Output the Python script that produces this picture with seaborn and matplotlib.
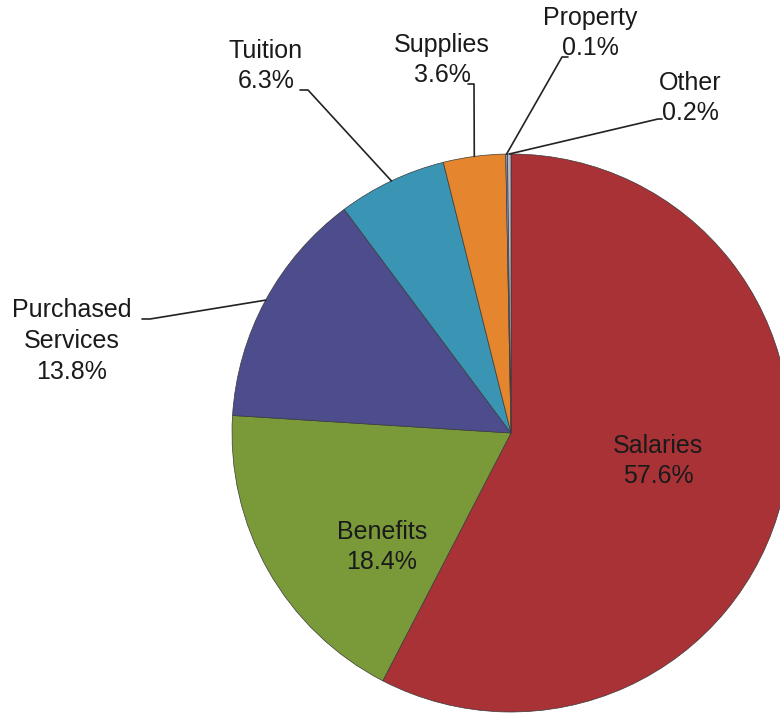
import numpy as np
import seaborn as sns
import matplotlib.pyplot as plt

# ---- data ----
categories = ["Salaries", "Benefits", "Purchased\nServices", "Tuition",
              "Supplies", "Property", "Other"]
shares = [57.6, 18.4, 13.8, 6.3, 3.6, 0.1, 0.2]
colors = ["#A83236", "#7A9A3A", "#4D4C8C", "#3A94B4",
          "#E5862E", "#8FA8D8", "#B8B8C8"]

# ---- layout (image pixel coords, y down) ----
W, H = 780, 717
center = (511, 433)
radius = 279
# label block centre, elbow point, end of short horizontal hook (None = inside)
label_pos = {
    "Salaries": ((658, 461), None, None),
    "Benefits": ((382, 547), None, None),
    "Purchased\nServices": ((72, 341), (150, 319), (142, 319)),
    "Tuition": ((266, 66), (308, 90), (300, 90)),
    "Supplies": ((442, 60), (474, 84), (468, 84)),
    "Property": ((590, 33), (562, 57), (568, 57)),
    "Other": ((690, 98), (658, 119), (662, 119)),
}


def img(x, y):
    return x, H - y


sns.set_theme(style="white")
plt.rcParams["font.family"] = ["Liberation Sans", "DejaVu Sans"]

fig = plt.figure(figsize=(W / 100, H / 100), dpi=100)
ax = fig.add_axes([0, 0, 1, 1])

wedges, _ = ax.pie(shares, colors=colors, startangle=90, counterclock=False,
                   center=img(*center), radius=radius,
                   wedgeprops=dict(edgecolor="#3a3a3a", linewidth=0.5))

cx, cy = img(*center)
for w, cat, val in zip(wedges, categories, shares):
    (tx, ty), elbow, hook = label_pos[cat]
    ax.text(*img(tx, ty), f"{cat}\n{val:.1f}%", ha="center", va="center",
            fontsize=18, color="#1a1a1a", linespacing=1.35)
    if elbow is not None:
        mid = np.deg2rad((w.theta1 + w.theta2) / 2)
        ex, ey = cx + radius * np.cos(mid), cy + radius * np.sin(mid)
        ax.plot([img(*hook)[0], img(*elbow)[0], ex],
                [img(*hook)[1], img(*elbow)[1], ey],
                color="#222222", linewidth=1.2)

ax.set_xlim(0, W)
ax.set_ylim(0, H)
ax.set_aspect("equal")
ax.axis("off")

fig.savefig("out.png", dpi=100, facecolor="white")
